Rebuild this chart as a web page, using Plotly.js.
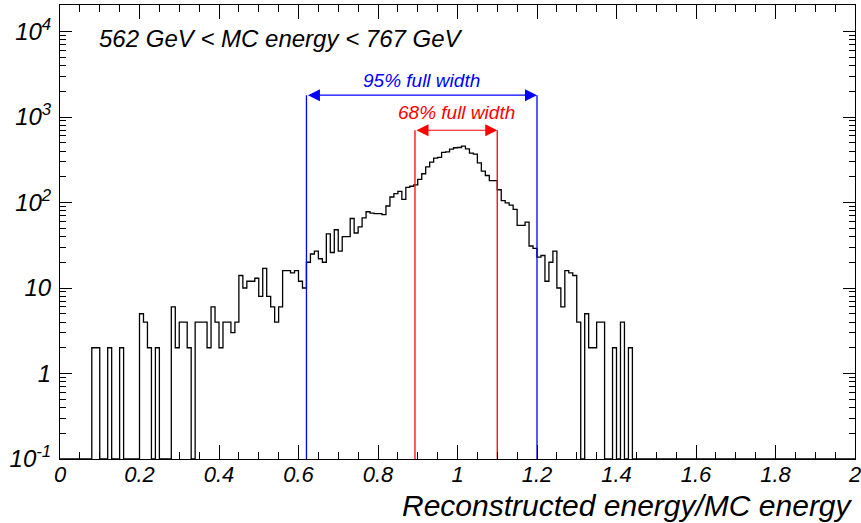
<!DOCTYPE html>
<html>
<head>
<meta charset="utf-8">
<script src="https://cdn.plot.ly/plotly-3.0.1.min.js"></script>
<style>
  html, body { margin: 0; padding: 0; background: #fff; }
  #chart { width: 861px; height: 523px; }
</style>
</head>
<body>
<div id="chart"></div>
<script>
// ---- data ----
const binWidth = 0.01;
const xMin = 0, xMax = 2;
// counts per bin of width 0.01, starting at 0.00
const counts = [
  0,0,0,0,0,0,0,0,2,2,
  0,0,2,0,0,2,0,0,0,0,
  5,4,2,0,2,0,0,0,6,2,
  4,4,2,0,4,4,4,2,6,4,
  2,4,4,3,4,14,10,12,12,13,
  8,17,8,6,4,6,16,16,15,16,
  12,10,20,25,27,22,20,43,26,48,
  27,40,40,65,44,52,66,78,75,74,
  74,72,91,116,127,135,109,150,155,161,
  186,217,261,296,330,338,386,392,420,437,
  440,457,424,379,368,290,233,207,180,180,
  141,105,99,93,83,54,54,59,31,29,
  23,24,12,20,27,10,6,16,15,14,
  4,0,5,2,2,4,4,0,0,2,
  0,4,0,2,0,0,0,0,0,0,
  0,0,0,0,0,0,0,0,0,0,
  0,0,0,0,0,0,0,0,0,0,
  0,0,0,0,0,0,0,0,0,0,
  0,0,0,0,0,0,0,0,0,0,
  0,0,0,0,0,0,0,0,0,0
];
const width95 = [0.62, 1.20];      // blue interval
const width68 = [0.893, 1.10];     // red interval
const level95 = 1800;              // height of the blue arrow
const level68 = 700;               // height of the red arrow
const label95 = "95% full width";
const label68 = "68% full width";
const rangeLabel = "562 GeV < MC energy < 767 GeV";
const xTitle = "Reconstructed energy/MC energy";
const xTickVals = [0, 0.2, 0.4, 0.6, 0.8, 1, 1.2, 1.4, 1.6, 1.8, 2];
const xTickText = ["0", "0.2", "0.4", "0.6", "0.8", "1", "1.2", "1.4", "1.6", "1.8", "2"];
const yTickVals = [0.1, 1, 10, 100, 1000, 10000];
const yTickText = ["10<sup>-1</sup>", "1", "10", "10<sup>2</sup>", "10<sup>3</sup>", "10<sup>4</sup>"];
const yRangeLog = [-1, 4.31];

// ---- build histogram outline ----
const yFloor = Math.pow(10, yRangeLog[0]);
const edges = counts.map((_, i) => xMin + i * binWidth);
edges.push(xMin + counts.length * binWidth);
const hy = counts.map(v => (v > 0 ? v : yFloor));
hy.push(hy[hy.length - 1]);

// minor tick positions on the log axis (2..9 per decade)
const yMinor = [];
for (let d = -1; d <= 4; d++) {
  for (let m = 2; m <= 9; m++) yMinor.push(m * Math.pow(10, d));
}

const FONT = "Liberation Sans, Arial, Helvetica, sans-serif";

const traces = [
  {
    x: edges, y: hy, type: "scatter", mode: "lines",
    line: { shape: "hv", color: "#000000", width: 1.3 },
    hoverinfo: "skip", showlegend: false
  },
  { x: [width95[0], width95[0]], y: [yFloor, level95], type: "scatter", mode: "lines",
    line: { color: "#0000ff", width: 1.3 }, showlegend: false, hoverinfo: "skip" },
  { x: [width95[1], width95[1]], y: [yFloor, level95], type: "scatter", mode: "lines",
    line: { color: "#0000ff", width: 1.3 }, showlegend: false, hoverinfo: "skip" },
  { x: [width68[0], width68[0]], y: [yFloor, level68], type: "scatter", mode: "lines",
    line: { color: "#ff0000", width: 1.3 }, showlegend: false, hoverinfo: "skip" },
  { x: [width68[1], width68[1]], y: [yFloor, level68], type: "scatter", mode: "lines",
    line: { color: "#ff0000", width: 1.3 }, showlegend: false, hoverinfo: "skip" }
];

function arrow(x0, x1, lvl, color) {
  const ly = Math.log10(lvl);
  return {
    x: x1, y: ly, ax: x0, ay: ly, xref: "x", yref: "y", axref: "x", ayref: "y",
    text: "", showarrow: true, arrowside: "end+start",
    arrowhead: 2, startarrowhead: 2, arrowsize: 2, startarrowsize: 2,
    arrowwidth: 1.2, arrowcolor: color, standoff: 0, startstandoff: 0
  };
}

const layout = {
  width: 861, height: 523,
  margin: { l: 60, r: 6, t: 5, b: 64, pad: 0 },
  paper_bgcolor: "#ffffff", plot_bgcolor: "#ffffff",
  showlegend: false,
  xaxis: {
    range: [xMin, xMax], tickmode: "array", tickvals: xTickVals, ticktext: xTickText,
    ticks: "inside", ticklen: 14, tickwidth: 1, tickcolor: "#000",
    minor: { tickmode: "linear", tick0: 0, dtick: 0.05, ticks: "inside", ticklen: 7, tickwidth: 1, tickcolor: "#000" },
    showline: true, linecolor: "#000", linewidth: 1, mirror: "ticks",
    showgrid: false, zeroline: false,
    tickfont: { family: FONT, size: 22, color: "#000", style: "italic" },
    ticklabelstandoff: -4, ticklabeloverflow: "allow"
  },
  yaxis: {
    type: "log", range: yRangeLog, tickmode: "array", tickvals: yTickVals, ticktext: yTickText,
    ticks: "inside", ticklen: 12, tickwidth: 1, tickcolor: "#000",
    minor: { tickmode: "array", tickvals: yMinor, ticks: "inside", ticklen: 6, tickwidth: 1, tickcolor: "#000" },
    showline: true, linecolor: "#000", linewidth: 1, mirror: "ticks",
    showgrid: false, zeroline: false,
    tickfont: { family: FONT, size: 24, color: "#000", style: "italic" },
    ticklabelstandoff: 3, ticklabeloverflow: "allow"
  },
  annotations: [
    arrow(width95[0], width95[1], level95, "#0000ff"),
    arrow(width68[0], width68[1], level68, "#ff0000"),
    { x: (width95[0] + width95[1]) / 2, y: Math.log10(level95), xref: "x", yref: "y",
      text: label95, showarrow: false, yanchor: "bottom", yshift: 2,
      font: { family: FONT, size: 19, color: "#0000ff", style: "italic" } },
    { x: (width68[0] + width68[1]) / 2, y: Math.log10(level68), xref: "x", yref: "y",
      text: label68, showarrow: false, yanchor: "bottom", yshift: 5,
      font: { family: FONT, size: 19, color: "#ff0000", style: "italic" } },
    { x: 0.046, y: 0.927, xref: "paper", yref: "paper", xanchor: "left", yanchor: "middle",
      text: rangeLabel, showarrow: false,
      font: { family: FONT, size: 24, color: "#000", style: "italic" } },
    { x: 1, y: -0.103, xref: "paper", yref: "paper", xanchor: "right", yanchor: "middle",
      text: xTitle, showarrow: false,
      font: { family: FONT, size: 30, color: "#000", style: "italic" } }
  ]
};

Plotly.newPlot("chart", traces, layout, { staticPlot: true, displayModeBar: false });
</script>
</body>
</html>
